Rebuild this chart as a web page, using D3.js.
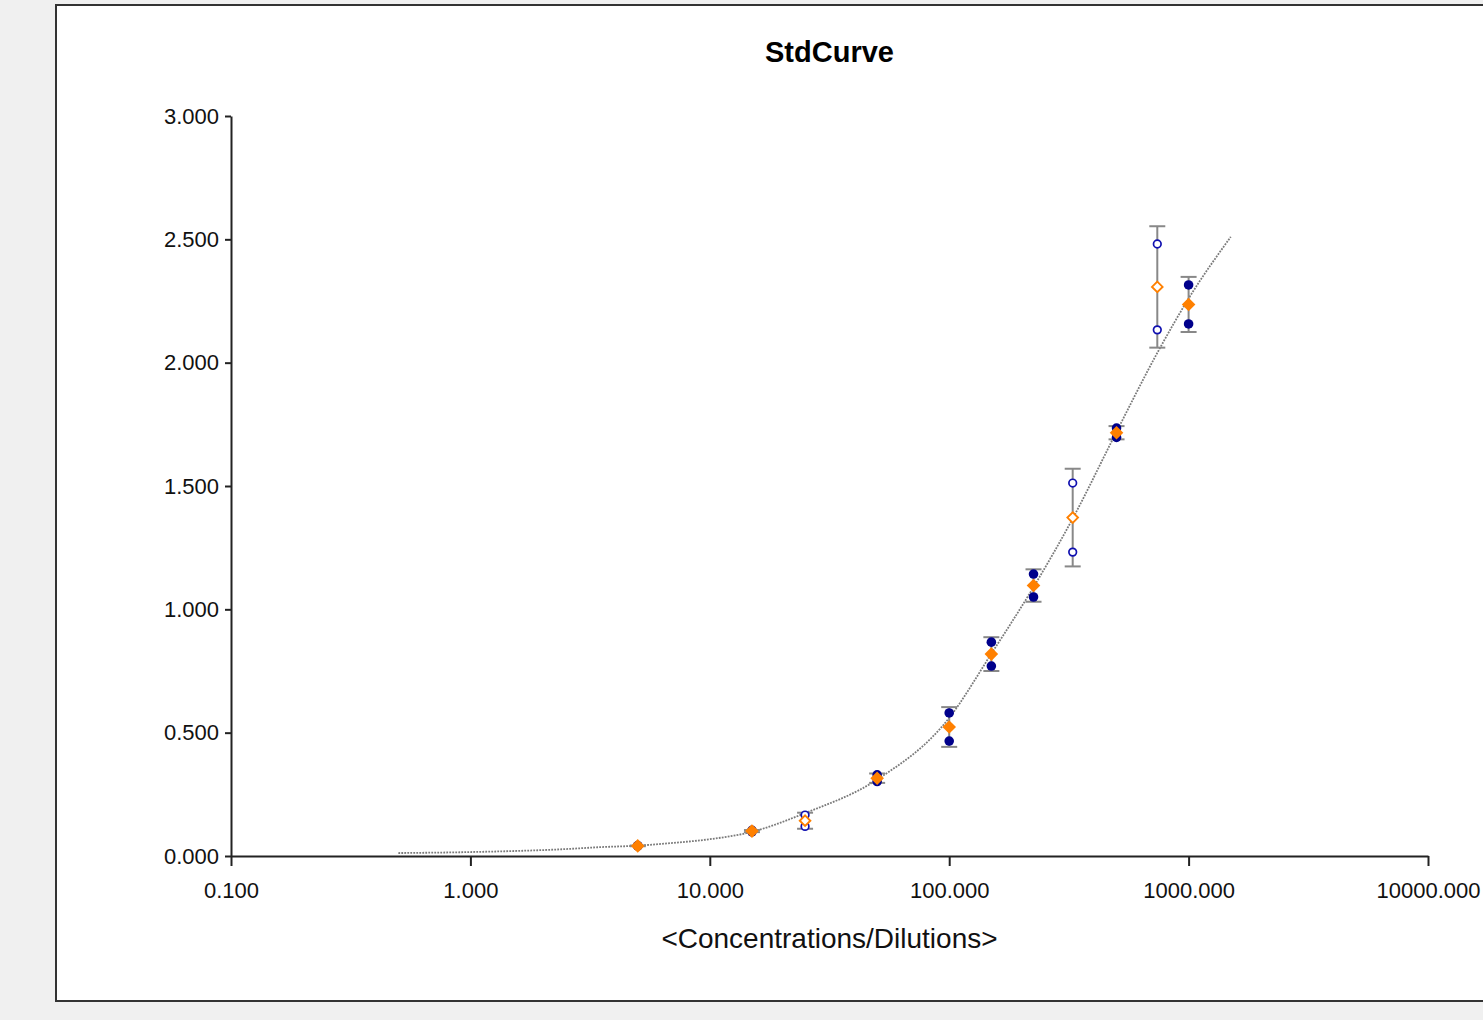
<!DOCTYPE html>
<html>
<head>
<meta charset="utf-8">
<script src="https://cdn.jsdelivr.net/npm/d3@7"></script>
<style>
  body { margin: 0; background: #f0f0f0; }
  text { font-family: "Liberation Sans", Arial, sans-serif; }
</style>
</head>
<body>
<div id="container"></div>
<script>
// Chart dimensions
const width = 1483;
const height = 1020;
const marginTop = 116;
const marginLeft = 231;
const plotRight = 1428;
const plotBottom = 856;

// Filled replicates (standards)
const stdConc = [5, 15, 50, 100, 150, 225, 500, 1000];
const stdRep1 = [0.040, 0.098, 0.329, 0.580, 0.867, 1.143, 1.735, 2.315];
const stdRep2 = [0.042, 0.104, 0.302, 0.466, 0.770, 1.050, 1.697, 2.157];

// Open replicates (outside the fit)
const outConc = [25, 328, 740];
const outRep1 = [0.166, 1.512, 2.481];
const outRep2 = [0.120, 1.232, 2.133];

// Fitted curve
const fitConc = [0.5, 1, 2.5, 3.5, 5, 7, 10, 15, 25, 50, 100, 150, 225, 333, 500, 750, 1000, 1500];
const fitValue = [0.012, 0.016, 0.028, 0.036, 0.042, 0.053, 0.068, 0.098, 0.174, 0.31, 0.56, 0.82, 1.09, 1.38, 1.72, 2.05, 2.26, 2.51];

// Tick labels
const xTicks = [0.1, 1, 10, 100, 1000, 10000];
const yTicks = [0, 0.5, 1, 1.5, 2, 2.5, 3];

const blue = "#00008b";
const orange = "#ff8000";
const barColor = "#888888";

const x = d3.scaleLog().domain([0.1, 10000]).range([marginLeft, plotRight]);
const y = d3.scaleLinear().domain([0, 3]).range([plotBottom, marginTop]);

function summarize(conc, r1, r2) {
    return conc.map((c, i) => ({
        conc: c,
        reps: [r1[i], r2[i]],
        mean: d3.mean([r1[i], r2[i]]),
        sd: d3.deviation([r1[i], r2[i]])
    }));
}
const stdData = summarize(stdConc, stdRep1, stdRep2);
const outData = summarize(outConc, outRep1, outRep2);
const fitData = fitConc.map((c, i) => ({ conc: c, value: fitValue[i] }));

const svg = d3.select("#container").append("svg")
    .attr("width", width)
    .attr("height", height)
    .attr("viewBox", [0, 0, width, height]);

svg.append("rect")
    .attr("width", width).attr("height", height)
    .attr("fill", "#f0f0f0");

// White chart panel
svg.append("rect")
    .attr("x", 56).attr("y", 5)
    .attr("width", width)
    .attr("height", 996)
    .attr("fill", "#fff")
    .attr("stroke", "#333")
    .attr("stroke-width", 2);

// Title
svg.append("text")
    .attr("x", (marginLeft + plotRight) / 2)
    .attr("y", 62)
    .attr("text-anchor", "middle")
    .style("font-size", "29px")
    .style("font-weight", "bold")
    .text("StdCurve");

// Axes
const xAxis = svg.append("g")
    .attr("transform", `translate(0,${plotBottom})`)
    .call(d3.axisBottom(x).tickValues(xTicks).tickFormat(d3.format(".3f")).tickSize(10).tickSizeOuter(0).tickPadding(16));
const yAxis = svg.append("g")
    .attr("transform", `translate(${marginLeft},0)`)
    .call(d3.axisLeft(y).tickValues(yTicks).tickFormat(d3.format(".3f")).tickSize(6).tickSizeOuter(0).tickPadding(6));

[xAxis, yAxis].forEach(g => {
    g.select(".domain").attr("stroke", "#222").attr("stroke-width", 2);
    g.selectAll(".tick line").attr("stroke", "#222").attr("stroke-width", 2);
    g.selectAll(".tick text")
        .attr("fill", "#111")
        .style("font-size", "22px")
        .style("font-family", "'Liberation Sans', Arial, sans-serif");
});

svg.append("text")
    .attr("x", (marginLeft + plotRight) / 2)
    .attr("y", 948)
    .attr("text-anchor", "middle")
    .attr("fill", "#111")
    .style("font-size", "28px")
    .text("<Concentrations/Dilutions>");

// Fitted curve (dotted)
const line = d3.line()
    .x(d => x(d.conc))
    .y(d => y(d.value))
    .curve(d3.curveMonotoneX);

svg.append("path")
    .datum(fitData)
    .attr("fill", "none")
    .attr("stroke", "#7a7a7a")
    .attr("stroke-width", 1.8)
    .attr("stroke-dasharray", "1.8,1.2")
    .attr("d", line);

// Error bars (mean +/- SD)
const allData = stdData.concat(outData);
const bars = svg.append("g")
    .attr("stroke", barColor)
    .attr("stroke-width", 2);
allData.forEach(d => {
    const cx = x(d.conc);
    const y0 = y(d.mean - d.sd);
    const y1 = y(d.mean + d.sd);
    bars.append("line").attr("x1", cx).attr("x2", cx).attr("y1", y0).attr("y2", y1);
    bars.append("line").attr("x1", cx - 8).attr("x2", cx + 8).attr("y1", y0).attr("y2", y0);
    bars.append("line").attr("x1", cx - 8).attr("x2", cx + 8).attr("y1", y1).attr("y2", y1);
});

// Replicate points
stdData.forEach(d => {
    d.reps.forEach(v => {
        svg.append("circle")
            .attr("cx", x(d.conc)).attr("cy", y(v))
            .attr("r", 4.8)
            .attr("fill", blue);
    });
});
outData.forEach(d => {
    d.reps.forEach(v => {
        svg.append("circle")
            .attr("cx", x(d.conc)).attr("cy", y(v))
            .attr("r", 3.8)
            .attr("fill", "#fff")
            .attr("stroke", "#1010b0")
            .attr("stroke-width", 1.7);
    });
});

// Mean diamonds
const diamond = r => `M0,${-r}L${r},0L0,${r}L${-r},0Z`;
stdData.forEach(d => {
    svg.append("path")
        .attr("transform", `translate(${x(d.conc)},${y(d.mean)})`)
        .attr("d", diamond(6.8))
        .attr("fill", orange);
});
outData.forEach(d => {
    svg.append("path")
        .attr("transform", `translate(${x(d.conc)},${y(d.mean)})`)
        .attr("d", diamond(5.3))
        .attr("fill", "#fff")
        .attr("stroke", orange)
        .attr("stroke-width", 1.9);
});
</script>
</body>
</html>
